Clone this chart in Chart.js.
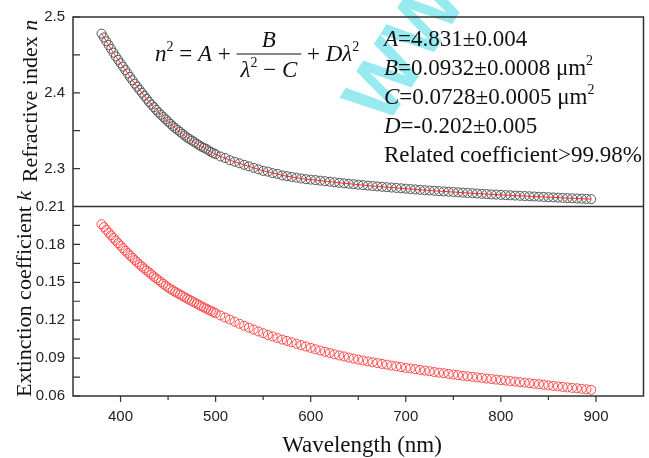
<!DOCTYPE html>
<html>
<head>
<meta charset="utf-8">
<script src="https://cdn.jsdelivr.net/npm/chart.js@4.4.1/dist/chart.umd.min.js"></script>
<style>
    html, body { margin: 0; padding: 0; background: #fff; }
</style>
</head>
<body>
<canvas id="nkChart" width="649" height="458"></canvas>
<script>
// wavelength of every measured point (nm) - denser in the blue where the curves are steep
const waveNm = [
    380, 382.5, 385, 387.5, 390, 392.5, 395, 397.5, 400, 402.5, 405, 407.5, 410, 412.5, 415, 417.5, 420, 422.5, 425, 427.5,
    430, 432.5, 435, 437.5, 440, 442.5, 445, 447.5, 450, 452.5, 455, 457.5, 460, 462.5, 465, 467.5, 470, 472.5, 475, 477.5,
    480, 482.5, 485, 487.5, 490, 492.5, 495, 497.5, 500,
    505, 510, 515, 520, 525, 530, 535, 540, 545, 550, 555, 560, 565, 570, 575,
    580, 585, 590, 595, 600, 605, 610, 615, 620, 625, 630, 635, 640, 645, 650, 655, 660, 665, 670, 675,
    680, 685, 690, 695, 700, 705, 710, 715, 720, 725, 730, 735, 740, 745, 750, 755, 760, 765, 770, 775,
    780, 785, 790, 795, 800, 805, 810, 815, 820, 825, 830, 835, 840, 845, 850, 855, 860, 865, 870, 875,
    880, 885, 890, 895
];

// refractive index n (open grey circles + red fit line)
const nVals = [
    2.478, 2.473, 2.468, 2.463, 2.458, 2.453, 2.448, 2.4435, 2.439, 2.4345, 2.430, 2.4255, 2.421, 2.4165, 2.412, 2.408, 2.404, 2.400, 2.396, 2.392,
    2.388, 2.3845, 2.381, 2.3775, 2.374, 2.371, 2.368, 2.365, 2.362, 2.359, 2.356, 2.3535, 2.351, 2.3485, 2.346, 2.3435, 2.341, 2.339, 2.337, 2.335,
    2.333, 2.331, 2.329, 2.3275, 2.326, 2.324, 2.322, 2.3205, 2.319,
    2.316, 2.314, 2.311, 2.309, 2.307, 2.305, 2.303, 2.301, 2.299, 2.297, 2.296, 2.294, 2.293, 2.291, 2.290,
    2.289, 2.288, 2.287, 2.286, 2.2855, 2.2848, 2.2841, 2.2834, 2.2827, 2.2820, 2.2813, 2.2806, 2.2800, 2.2794, 2.2788, 2.2782, 2.2776, 2.2770, 2.2765, 2.2760,
    2.2755, 2.2750, 2.2745, 2.2740, 2.2735, 2.2730, 2.2725, 2.2720, 2.2715, 2.2711, 2.2707, 2.2703, 2.2699, 2.2695, 2.2691, 2.2687, 2.2683, 2.2679, 2.2675, 2.2671,
    2.2667, 2.2664, 2.2660, 2.2657, 2.2653, 2.2650, 2.2647, 2.2644, 2.2641, 2.2638, 2.2635, 2.2632, 2.2629, 2.2626, 2.2623, 2.2620, 2.2617, 2.2614, 2.2611, 2.2609,
    2.2606, 2.2603, 2.2600, 2.2597
];

// extinction coefficient k (open red circles)
const kVals = [
    0.1960, 0.1937, 0.1915, 0.1893, 0.1872, 0.1851, 0.1831, 0.1810, 0.1790, 0.1770, 0.1750, 0.1731, 0.1712, 0.1694, 0.1676, 0.1658, 0.1641, 0.1625, 0.1609, 0.1593,
    0.1578, 0.1562, 0.1546, 0.1531, 0.1517, 0.1502, 0.1488, 0.1473, 0.1459, 0.1447, 0.1435, 0.1424, 0.1414, 0.1403, 0.1393, 0.1382, 0.1371, 0.1361, 0.1351, 0.1341,
    0.1331, 0.1321, 0.1311, 0.1301, 0.1292, 0.1283, 0.1274, 0.1265, 0.1256,
    0.1238, 0.1221, 0.1205, 0.1188, 0.1172, 0.1156, 0.1141, 0.1126, 0.1111, 0.1097, 0.1083, 0.1071, 0.1059, 0.1047, 0.1036,
    0.1025, 0.1014, 0.1003, 0.0992, 0.0981, 0.0970, 0.0960, 0.0950, 0.0940, 0.0930, 0.0921, 0.0913, 0.0904, 0.0896, 0.0888, 0.0881, 0.0874, 0.0867, 0.0861, 0.0854,
    0.0848, 0.0841, 0.0835, 0.0829, 0.0823, 0.0818, 0.0812, 0.0807, 0.0801, 0.0796, 0.0790, 0.0785, 0.0780, 0.0775, 0.0770, 0.0765, 0.0760, 0.0756, 0.0752, 0.0747,
    0.0743, 0.0738, 0.0734, 0.0730, 0.0726, 0.0722, 0.0718, 0.0714, 0.0710, 0.0706, 0.0701, 0.0697, 0.0693, 0.0689, 0.0684, 0.0680, 0.0676, 0.0672, 0.0668, 0.0664,
    0.0661, 0.0657, 0.0653, 0.0649
];

// tick values
const xTickVals = [400, 500, 600, 700, 800, 900];
const xMinorVals = [450, 550, 650, 750, 850];
const nTickVals = [2.3, 2.4, 2.5];
const nMinorVals = [2.35, 2.45];
const kTickVals = [0.06, 0.09, 0.12, 0.15, 0.18, 0.21];
const kMinorVals = [0.075, 0.105, 0.135, 0.165, 0.195];

const SERIF = '"Liberation Serif", "Times New Roman", serif';
const SANS = '"Liberation Sans", Arial, sans-serif';

// draw a row of text pieces (different fonts) one after another
function drawRuns(ctx, x, y, parts) {
    parts.forEach(p => {
        ctx.font = p.f;
        ctx.fillText(p.t, x, y + (p.dy || 0));
        x += ctx.measureText(p.t).width;
    });
    return x;
}

function runsWidth(ctx, parts) {
    let w = 0;
    parts.forEach(p => {
        ctx.font = p.f;
        w += ctx.measureText(p.t).width;
    });
    return w;
}

const frameAndText = {
    id: 'frameAndText',
    afterDraw(chart) {
        const ctx = chart.ctx;
        const a = chart.chartArea;
        const xs = chart.scales.x;
        const yn = chart.scales.yN;
        const yk = chart.scales.yK;
        ctx.save();

        // publisher watermark (light cyan)
        ctx.save();
        ctx.globalAlpha = 0.55;
        ctx.fillStyle = '#3fd8e4';
        ctx.translate(408, 52);
        ctx.rotate(-1.0);
        ctx.font = 'bold 80px ' + SANS;
        ctx.textAlign = 'center';
        ctx.textBaseline = 'middle';
        ctx.fillText('WW', 0, 0);
        ctx.restore();

        // box and panel divider
        ctx.strokeStyle = '#333';
        ctx.lineWidth = 1.5;
        ctx.strokeRect(a.left, a.top, a.right - a.left, a.bottom - a.top);
        const mid = yn.getPixelForValue(2.25);
        ctx.beginPath();
        ctx.moveTo(a.left, mid);
        ctx.lineTo(a.right, mid);
        ctx.stroke();

        // inward ticks on the left axes
        ctx.lineWidth = 1.2;
        ctx.beginPath();
        nTickVals.concat(nMinorVals).forEach(v => {
            const y = yn.getPixelForValue(v);
            ctx.moveTo(a.left, y); ctx.lineTo(a.left + 7, y);
        });
        kTickVals.concat(kMinorVals).forEach(v => {
            const y = yk.getPixelForValue(v);
            ctx.moveTo(a.left, y); ctx.lineTo(a.left + 7, y);
        });
        // outward ticks on the x axis
        xTickVals.forEach(v => {
            const x = xs.getPixelForValue(v);
            ctx.moveTo(x, a.bottom); ctx.lineTo(x, a.bottom + 6);
        });
        xMinorVals.forEach(v => {
            const x = xs.getPixelForValue(v);
            ctx.moveTo(x, a.bottom); ctx.lineTo(x, a.bottom + 4);
        });
        ctx.stroke();

        ctx.fillStyle = '#111';
        ctx.textBaseline = 'alphabetic';

        // axis titles
        const reg = '22px ' + SERIF;
        const ita = 'italic 22px ' + SERIF;
        const nTitle = [{t: 'Refractive index ', f: reg}, {t: 'n', f: ita}];
        const kTitle = [{t: 'Extinction coefficient ', f: reg}, {t: 'k', f: ita}];
        ctx.save();
        ctx.translate(37, 101);
        ctx.rotate(-Math.PI / 2);
        drawRuns(ctx, -runsWidth(ctx, nTitle) / 2, 0, nTitle);
        ctx.restore();
        ctx.save();
        ctx.translate(31, 294);
        ctx.rotate(-Math.PI / 2);
        drawRuns(ctx, -runsWidth(ctx, kTitle) / 2, 0, kTitle);
        ctx.restore();

        ctx.font = '23px ' + SERIF;
        ctx.textAlign = 'center';
        ctx.fillText('Wavelength (nm)', 362, 452);
        ctx.textAlign = 'left';

        // fitted dispersion formula
        const fR = '23px ' + SERIF;
        const fI = 'italic 23px ' + SERIF;
        const fS = '14px ' + SERIF;
        const base = 61;
        let x = drawRuns(ctx, 155, base, [
            {t: 'n', f: fI}, {t: '2', f: fS, dy: -10},
            {t: ' = ', f: fR}, {t: 'A', f: fI}, {t: ' + ', f: fR}
        ]);
        const den = [{t: 'λ', f: fI}, {t: '2', f: fS, dy: -10}, {t: ' − ', f: fR}, {t: 'C', f: fI}];
        const denW = runsWidth(ctx, den);
        const fracW = denW + 8;
        ctx.beginPath();
        ctx.lineWidth = 1.2;
        ctx.strokeStyle = '#111';
        ctx.moveTo(x, base - 7);
        ctx.lineTo(x + fracW, base - 7);
        ctx.stroke();
        ctx.font = fI;
        ctx.textAlign = 'center';
        ctx.fillText('B', x + fracW / 2, base - 14);
        ctx.textAlign = 'left';
        drawRuns(ctx, x + 4, base + 16, den);
        x += fracW;
        drawRuns(ctx, x, base, [
            {t: ' + ', f: fR}, {t: 'D', f: fI}, {t: 'λ', f: fI}, {t: '2', f: fS, dy: -10}
        ]);

        // fit parameters
        const pR = '23px ' + SERIF;
        const pI = 'italic 23px ' + SERIF;
        const pS = '14px ' + SERIF;
        const px = 384;
        drawRuns(ctx, px, 46, [{t: 'A', f: pI}, {t: '=4.831±0.004', f: pR}]);
        drawRuns(ctx, px, 75, [{t: 'B', f: pI}, {t: '=0.0932±0.0008 μm', f: pR}, {t: '2', f: pS, dy: -10}]);
        drawRuns(ctx, px, 104, [{t: 'C', f: pI}, {t: '=0.0728±0.0005 μm', f: pR}, {t: '2', f: pS, dy: -10}]);
        drawRuns(ctx, px, 133, [{t: 'D', f: pI}, {t: '=-0.202±0.005', f: pR}]);
        drawRuns(ctx, px, 162, [{t: 'Related coefficient>99.98%', f: pR}]);

        ctx.restore();
    }
};

const nPoints = waveNm.map((w, i) => ({x: w, y: nVals[i]}));
const kPoints = waveNm.map((w, i) => ({x: w, y: kVals[i]}));

const ctx = document.getElementById('nkChart').getContext('2d');

const nkChart = new Chart(ctx, {
    type: 'scatter',
    data: {
        datasets: [
            {
                label: 'n fit',
                data: nPoints,
                yAxisID: 'yN',
                showLine: true,
                borderColor: '#ff2b2b',
                borderWidth: 1,
                pointRadius: 0,
                fill: false,
                order: 0,
            },
            {
                label: 'n',
                data: nPoints,
                yAxisID: 'yN',
                pointRadius: 4.5,
                pointBorderWidth: 1,
                pointBorderColor: '#555',
                pointBackgroundColor: 'rgba(255,255,255,0)',
                order: 1,
            },
            {
                label: 'k',
                data: kPoints,
                yAxisID: 'yK',
                pointRadius: 4.5,
                pointBorderWidth: 1,
                pointBorderColor: '#ff4a4a',
                pointBackgroundColor: 'rgba(255,255,255,0)',
                order: 2,
            },
        ]
    },
    options: {
        responsive: false,
        animation: false,
        devicePixelRatio: 1,
        layout: {
            padding: {left: 0, right: 1.5, top: 17, bottom: 0}
        },
        plugins: {
            legend: {display: false},
            tooltip: {enabled: false},
        },
        scales: {
            x: {
                type: 'linear',
                position: 'bottom',
                min: 350,
                max: 950,
                grid: {display: false, drawTicks: false},
                border: {display: false},
                afterBuildTicks: s => { s.ticks = xTickVals.map(v => ({value: v})); },
                afterFit: s => { s.height = 62; },
                ticks: {
                    padding: 12,
                    color: '#222',
                    font: {family: SANS, size: 15},
                    maxRotation: 0,
                },
            },
            // stacked axes: the first one listed ends up at the bottom
            yK: {
                type: 'linear',
                position: 'left',
                stack: 'panels',
                stackWeight: 1,
                min: 0.06,
                max: 0.21,
                grid: {display: false, drawTicks: false},
                border: {display: false},
                afterBuildTicks: s => { s.ticks = kTickVals.map(v => ({value: v})); },
                afterFit: s => { s.width = 73; },
                ticks: {
                    padding: 8,
                    color: '#222',
                    font: {family: SANS, size: 15},
                    callback: v => v.toFixed(2),
                },
            },
            yN: {
                type: 'linear',
                position: 'left',
                stack: 'panels',
                stackWeight: 1,
                min: 2.25,
                max: 2.5,
                grid: {display: false, drawTicks: false},
                border: {display: false},
                afterBuildTicks: s => { s.ticks = nTickVals.map(v => ({value: v})); },
                afterFit: s => { s.width = 73; },
                ticks: {
                    padding: 8,
                    color: '#222',
                    font: {family: SANS, size: 15},
                    callback: v => v.toFixed(1),
                },
            },
        },
    },
    plugins: [frameAndText],
});
</script>
</body>
</html>
